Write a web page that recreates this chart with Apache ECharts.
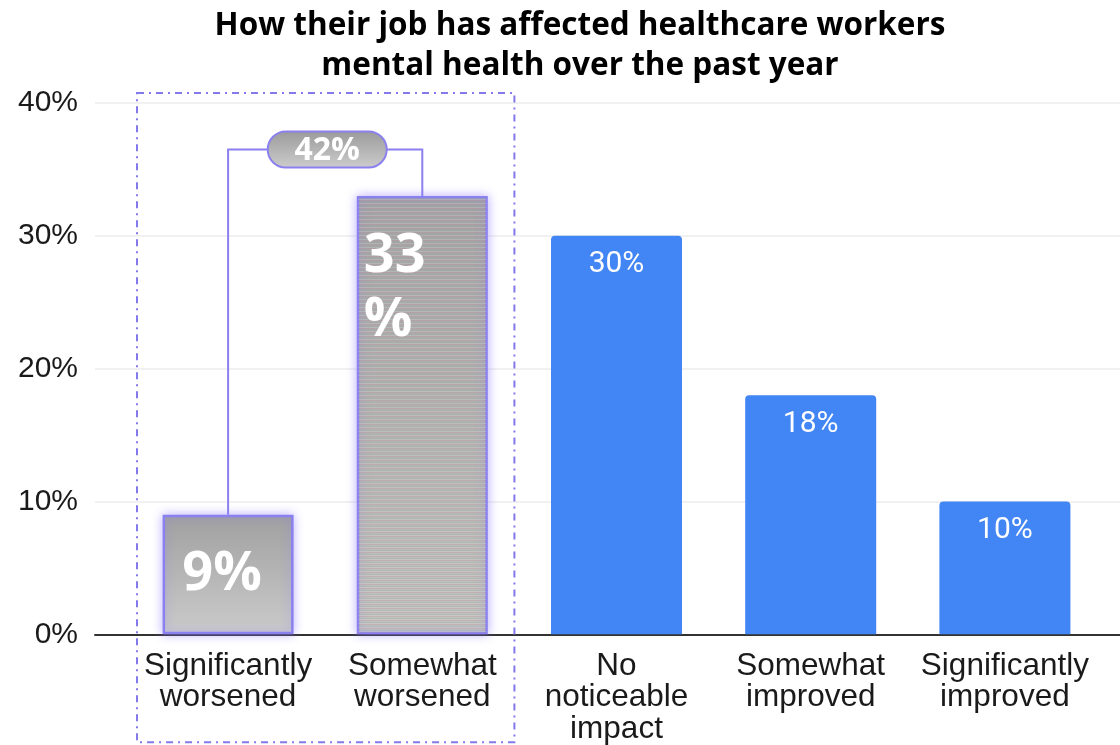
<!DOCTYPE html>
<html>
<head>
<meta charset="utf-8">
<script src="https://cdn.jsdelivr.net/npm/echarts@6/dist/echarts.min.js"></script>
<style>
  html, body { margin: 0; padding: 0; background: #ffffff; }
  #chart { width: 1120px; height: 745px; }
</style>
</head>
<body>
<div id="chart"></div>
<script>
// Survey answers and shares (%)
const categories = [
  'Significantly\nworsened',
  'Somewhat\nworsened',
  'No\nnoticeable\nimpact',
  'Somewhat\nimproved',
  'Significantly\nimproved'
];
const values = [9, 33, 30, 18, 10];
// Indices of the two "worsened" answers grouped by the bracket
const worsenedIdx = [0, 1];
// Height of the bracket that sums the worsened answers
const bracketLevel = 36.5;
const yMin = 0, yMax = 40, yStep = 10;

const title = 'How their job has affected healthcare workers\nmental health over the past year';

const PURPLE = '#8b80ef';
const BLUE = '#4285f4';
const labelFont = '"Liberation Sans", Arial, sans-serif';
const boldFont = '"Open Sans", "Noto Sans", sans-serif';
const BAR_W = 131;

const greyGradient = new echarts.graphic.LinearGradient(0, 0, 0, 1, [
  { offset: 0, color: '#a0a0a0' },
  { offset: 1, color: '#cbcbcb' }
]);
const stripedGradient = new echarts.graphic.LinearGradient(0, 0, 0, 1, [
  { offset: 0, color: '#a3a1a2' },
  { offset: 1, color: '#c2c2bd' }
]);

// Fine horizontal banding used on the "somewhat worsened" bar
const stripeCanvas = document.createElement('canvas');
stripeCanvas.width = 4;
stripeCanvas.height = 4;
(function () {
  const c = stripeCanvas.getContext('2d');
  c.fillStyle = 'rgba(190, 140, 165, 0.25)'; c.fillRect(0, 0, 4, 1);
  c.fillStyle = 'rgba(255, 255, 255, 0.0)';  c.fillRect(0, 1, 4, 1);
  c.fillStyle = 'rgba(140, 175, 150, 0.25)'; c.fillRect(0, 2, 4, 1);
  c.fillStyle = 'rgba(220, 220, 235, 0.25)'; c.fillRect(0, 3, 4, 1);
})();

const glow = {
  borderColor: PURPLE,
  borderWidth: 2.5,
  shadowBlur: 10,
  shadowColor: 'rgba(135, 115, 255, 0.5)'
};

const barData = values.map((v, i) => {
  if (i === worsenedIdx[0]) {
    return {
      value: v,
      itemStyle: Object.assign({ color: greyGradient }, glow),
      label: {
        show: true, position: 'inside', offset: [-6, 0],
        formatter: '{c}%', color: '#ffffff',
        fontFamily: boldFont, fontWeight: 'bold', fontSize: 54
      }
    };
  }
  if (i === worsenedIdx[1]) {
    // its label is drawn on top of the banding (see renderBanding)
    return {
      value: v,
      itemStyle: Object.assign({ color: stripedGradient }, glow),
      label: { show: false }
    };
  }
  return {
    value: v,
    itemStyle: { color: BLUE, borderRadius: [4, 4, 0, 0] },
    label: {
      show: true, position: 'insideTop', distance: 14,
      formatter: '{c}%', color: '#ffffff',
      fontFamily: 'Roboto, sans-serif', fontSize: 30, lineHeight: 30
    }
  };
});

// Banding laid over the "somewhat worsened" bar, with its value label on top
function renderBanding(params, api) {
  const b = worsenedIdx[1];
  const pB = api.coord([b, values[b]]);
  const yBase = api.coord([b, yMin])[1];
  const left = pB[0] - BAR_W / 2;
  return {
    type: 'group',
    children: [
      {
        type: 'rect',
        shape: {
          x: left + 1.5, y: pB[1] + 1.5,
          width: BAR_W - 3, height: yBase - pB[1] - 3
        },
        style: { fill: { image: stripeCanvas, repeat: 'repeat' } }
      },
      {
        type: 'text',
        style: {
          x: left + 7, y: pB[1] + 29,
          text: values[b] + '\n%',
          align: 'left', verticalAlign: 'top', lineHeight: 64,
          fill: '#ffffff', font: 'bold 54px "Open Sans", sans-serif'
        }
      }
    ]
  };
}

// Dashed frame and bracket with the combined share of the worsened answers
function renderBracket(params, api) {
  const a = worsenedIdx[0], b = worsenedIdx[1];
  const band = api.size([1, 0])[0];
  const pA = api.coord([a, values[a]]);
  const pB = api.coord([b, values[b]]);
  const yTop = api.coord([a, yMax])[1];
  const yBase = api.coord([a, yMin])[1];
  const yBr = api.coord([a, bracketLevel])[1];
  const total = values[a] + values[b];
  const pillW = 119, pillH = 36;
  const pillX = (pA[0] + pB[0]) / 2 + 2 - pillW / 2;

  const lineStyle = { stroke: PURPLE, lineWidth: 2, fill: null };
  return {
    type: 'group',
    children: [
      {
        type: 'rect', z2: -10,
        shape: {
          x: pA[0] - band / 2 + 6,
          y: yTop - 10,
          width: (pB[0] - pA[0]) + band - 11,
          height: (yBase + 108) - (yTop - 10)
        },
        style: { fill: null, stroke: '#8479ea', lineWidth: 2, lineDash: [7, 5, 2, 5] }
      },
      {
        type: 'polyline',
        shape: { points: [[pA[0], pA[1]], [pA[0], yBr], [pillX, yBr]] },
        style: lineStyle
      },
      {
        type: 'polyline',
        shape: { points: [[pillX + pillW, yBr], [pB[0], yBr], [pB[0], pB[1]]] },
        style: lineStyle
      },
      {
        type: 'rect',
        shape: { x: pillX, y: yBr - pillH / 2, width: pillW, height: pillH, r: pillH / 2 },
        style: {
          fill: new echarts.graphic.LinearGradient(0, 0, 0, 1, [
            { offset: 0, color: '#9a9a9a' },
            { offset: 1, color: '#cdcdcd' }
          ]),
          stroke: PURPLE, lineWidth: 2
        }
      },
      {
        type: 'text',
        style: {
          x: pillX + pillW / 2, y: yBr + 1,
          text: total + '%',
          align: 'center', verticalAlign: 'middle',
          fill: '#ffffff', font: 'bold 32px "Open Sans", sans-serif'
        }
      }
    ]
  };
}

const chart = echarts.init(document.getElementById('chart'), null, { renderer: 'canvas' });

chart.setOption({
  animation: false,
  backgroundColor: '#ffffff',
  title: {
    text: title,
    left: 575, top: 1, textAlign: 'center',
    textStyle: {
      fontFamily: boldFont, fontWeight: 'bold', fontSize: 31.5,
      lineHeight: 40, color: '#000000'
    }
  },
  grid: [
    { left: 131, right: 18, top: 103, bottom: 110 },
    { left: 95, right: 0, top: 103, bottom: 110 }
  ],
  xAxis: [
    {
      type: 'category', gridIndex: 0, data: categories,
      axisLine: { show: false }, axisTick: { show: false },
      axisLabel: {
        interval: 0, margin: 16, color: '#1a1a1a',
        fontFamily: labelFont, fontSize: 31.5, lineHeight: 31.5
      }
    },
    {
      type: 'value', gridIndex: 1, min: 0, max: 1,
      axisLine: { show: true, onZero: false, lineStyle: { color: '#333333', width: 2 } },
      axisTick: { show: false }, axisLabel: { show: false }, splitLine: { show: false }
    }
  ],
  yAxis: [
    { type: 'value', gridIndex: 0, min: yMin, max: yMax, interval: yStep, show: false },
    {
      type: 'value', gridIndex: 1, min: yMin, max: yMax, interval: yStep,
      axisLine: { show: false }, axisTick: { show: false },
      axisLabel: {
        formatter: '{value}%', margin: 17, color: '#1a1a1a',
        fontFamily: labelFont, fontSize: 30
      },
      splitLine: { lineStyle: { color: '#ececec', width: 1.5 } }
    }
  ],
  series: [
    {
      type: 'bar', xAxisIndex: 0, yAxisIndex: 0,
      barWidth: BAR_W, z: 2,
      data: barData
    },
    {
      type: 'custom', xAxisIndex: 0, yAxisIndex: 0,
      clip: false, silent: true, z: 3,
      renderItem: renderBanding,
      data: [[worsenedIdx[1], values[worsenedIdx[1]]]]
    },
    {
      type: 'custom', xAxisIndex: 0, yAxisIndex: 0,
      clip: false, silent: true, z: 5,
      renderItem: renderBracket,
      data: [[worsenedIdx[0], values[worsenedIdx[0]]]]
    }
  ]
});
</script>
</body>
</html>
